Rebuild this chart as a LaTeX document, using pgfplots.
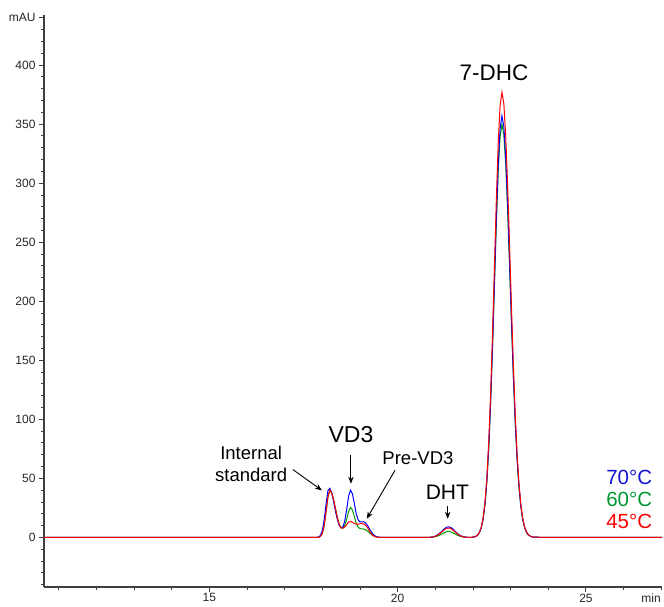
\documentclass[border=0pt]{standalone}
\usepackage{pgfplots}
\pgfplotsset{compat=1.18}
\usepackage{pgfplotstable}
\usepackage{fontspec}
\setmainfont{Liberation Sans}
\usetikzlibrary{arrows.meta}
\definecolor{cblue}{RGB}{0,0,255}
\definecolor{cgreen}{RGB}{0,153,0}
\definecolor{cred}{RGB}{255,0,0}
\definecolor{tblue}{RGB}{20,20,215}
\definecolor{tgreen}{RGB}{0,150,50}
\definecolor{axgray}{RGB}{64,64,64}

\pgfplotstableread{
x b g r
10.61 0 0 0
17.00 0 0 0
17.70 0 0 0
17.75 0 0 0
17.80 0 0 0
17.85 0.05 0.02 0.02
17.90 0.3 0.15 0.15
17.95 1.6 0.8 0.8
18.00 5.7 3.4 3.4
18.05 14.8 10.0 10.0
18.10 28.3 21.6 21.6
18.15 39.7 34.3 34.3
18.20 41.6 40.0 40.0
18.25 37.7 37.8 37.8
18.30 30.5 32.0 32.0
18.35 22.1 24.3 24.3
18.40 15.0 16.8 16.6
18.45 10.0 11.0 10.5
18.50 8.2 8.0 8.0
18.55 9.0 8.0 7.8
18.60 14.5 10.5 8.8
18.65 24.3 15.6 11.0
18.70 35.2 22.3 13.0
18.75 40.1 25.3 13.5
18.80 36.9 23.2 12.8
18.85 28.8 17.8 11.8
18.90 20.3 12.0 11.2
18.95 14.9 8.8 11.2
19.00 13.1 7.4 11.6
19.05 13.2 7.2 11.7
19.10 13.2 7.1 11.3
19.15 12.2 6.5 10.3
19.20 10.1 5.4 8.3
19.25 7.3 3.9 5.5
19.30 4.7 2.5 3.2
19.35 2.6 1.4 1.6
19.40 1.3 0.7 0.7
19.45 0.57 0.3 0.3
19.50 0.22 0.1 0.1
19.55 0.07 0.03 0.05
19.60 0.02 0.01 0.02
20.00 0 0 0
20.50 0 0 0
20.80 0.05 0.03 0.04
20.85 0.12 0.07 0.11
20.90 0.27 0.15 0.24
20.95 0.57 0.31 0.50
21.00 1.1 0.60 0.96
21.05 1.9 1.05 1.7
21.10 3.1 1.7 2.7
21.15 4.5 2.5 4.0
21.20 6.1 3.4 5.4
21.25 7.6 4.2 6.7
21.30 8.6 4.8 7.7
21.35 9.0 5.0 8.0
21.40 8.6 4.8 7.7
21.45 7.6 4.2 6.7
21.50 6.1 3.4 5.4
21.55 4.5 2.5 4.0
21.60 3.1 1.7 2.7
21.65 1.9 1.05 1.7
21.70 1.1 0.60 0.96
21.75 0.57 0.31 0.50
21.80 0.27 0.15 0.24
21.85 0.12 0.07 0.11
21.90 0.05 0.03 0.04
21.97 0.1 0.1 0.1
22.02 0.3 0.3 0.3
22.07 0.8 0.8 0.8
22.12 1.8 1.8 1.9
22.17 4.0 3.9 4.2
22.22 8.1 8.0 8.6
22.27 15.7 15.4 16.6
22.32 28.4 27.9 30.0
22.37 48.3 47.4 51.0
22.42 77.2 75.7 81.5
22.47 115.9 113.6 122.4
22.52 163.4 160.2 172.6
22.57 216.5 212.3 228.7
22.62 269.5 264.2 284.6
22.67 315.1 308.9 332.7
22.72 346.0 339.2 365.4
22.77 357.0 350.0 377.0
22.82 347.9 341.1 367.4
22.87 322.0 315.7 340.0
22.92 283.0 277.4 298.8
22.97 236.2 231.5 249.4
23.02 187.2 183.5 197.7
23.07 140.9 138.1 148.8
23.12 100.7 98.7 106.4
23.17 68.4 67.0 72.2
23.22 44.1 43.2 46.5
23.27 27.0 26.5 28.5
23.32 15.7 15.4 16.6
23.37 8.7 8.5 9.2
23.42 4.5 4.4 4.8
23.47 2.2 2.2 2.4
23.52 1.1 1.1 1.1
23.57 0.5 0.5 0.5
23.62 0.2 0.2 0.2
24.00 0 0 0
27.02 0 0 0
}\chrom

\begin{document}
\begin{tikzpicture}
\useasboundingbox (-44pt,-19pt) rectangle (620pt,587pt);
\begin{axis}[
  at={(0,0)}, anchor=south west,
  scale only axis, width=618pt, height=571.5pt,
  xmin=10.61, xmax=27.02, ymin=-42, ymax=442,
  axis lines=left,
  axis line style={-, axgray, line width=1.1pt},
  tick style={axgray, line width=0.9pt},
  tick align=outside,
  major tick length=5pt, minor tick length=3pt,
  xtick={15,20,25}, minor xtick={11,...,27},
  ytick={0,50,...,400,440},
  yticklabels={0,50,100,150,200,250,300,350,400,mAU},
  minor ytick={-40,-30,...,440},
  ticklabel style={font=\fontsize{12}{14}\selectfont, text=black!85},
  xticklabel style={inner sep=1.5pt},
  /pgf/number format/assume math mode=true,
  clip=false,
  every axis plot/.append style={line width=1pt},
]
\addplot[cgreen] table[x=x,y=g]{\chrom};
\addplot[cblue] table[x=x,y=b]{\chrom};
\addplot[cred] table[x=x,y=r]{\chrom};

\node[anchor=base east, inner sep=1pt, yshift=-15pt, font=\fontsize{12}{14}\selectfont, text=black!85] at (rel axis cs:1,0) {min};

\node[font=\fontsize{22.5}{26}\selectfont] at (axis cs:22.56,393.5) {7-DHC};
\node[font=\fontsize{23}{27}\selectfont] at (axis cs:18.76,87) {VD3};
\draw[-{Stealth[length=7pt,width=5.5pt]}, line width=0.9pt] (axis cs:18.76,69.5) -- (axis cs:18.76,45.5);
\node[font=\fontsize{18.5}{22.3}\selectfont, align=center] at (axis cs:16.11,62) {Internal\\standard};
\draw[-{Stealth[length=7pt,width=5.5pt]}, line width=0.9pt] (axis cs:17.22,57.4) -- (axis cs:17.99,39.8);
\node[font=\fontsize{18.5}{22}\selectfont] at (axis cs:20.54,67.5) {Pre-VD3};
\draw[-{Stealth[length=7pt,width=5.5pt]}, line width=0.9pt] (axis cs:19.93,56.8) -- (axis cs:19.18,15.8);
\node[font=\fontsize{21}{25}\selectfont] at (axis cs:21.32,37.9) {DHT};
\draw[-{Stealth[length=7pt,width=5.5pt]}, line width=0.9pt] (axis cs:21.33,27) -- (axis cs:21.33,15.8);

\node[anchor=east, text=tblue, font=\fontsize{20.5}{24}\selectfont] at (axis cs:26.85,50.6) {70°C};
\node[anchor=east, text=tgreen, font=\fontsize{20.5}{24}\selectfont] at (axis cs:26.85,32) {60°C};
\node[anchor=east, text=cred, font=\fontsize{20.5}{24}\selectfont] at (axis cs:26.85,13.8) {45°C};
\end{axis}
\end{tikzpicture}
\end{document}
